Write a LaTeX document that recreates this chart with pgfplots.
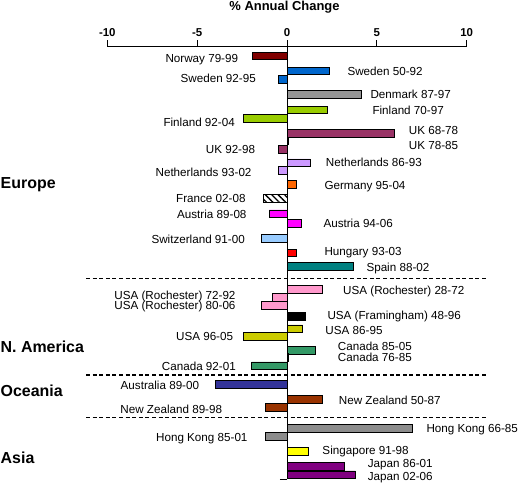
\documentclass[border=0pt]{standalone}
\usepackage{fontspec}
\setmainfont{Liberation Sans}
\usepackage{pgfplots}
\pgfplotsset{compat=1.18}
\usetikzlibrary{patterns.meta}
\definecolor{cNor}{HTML}{800000}
\definecolor{cSwe}{HTML}{0066CC}
\definecolor{cDen}{HTML}{969696}
\definecolor{cFin}{HTML}{99CC00}
\definecolor{cUK}{HTML}{993366}
\definecolor{cNed}{HTML}{CC99FF}
\definecolor{cGer}{HTML}{FF6600}
\definecolor{cAut}{HTML}{FF00FF}
\definecolor{cSwi}{HTML}{99CCFF}
\definecolor{cHun}{HTML}{FF0000}
\definecolor{cSpa}{HTML}{008080}
\definecolor{cRoc}{HTML}{FF99CC}
\definecolor{cFra}{HTML}{000000}
\definecolor{cUSA}{HTML}{CCCC00}
\definecolor{cCan}{HTML}{339966}
\definecolor{cAus}{HTML}{333399}
\definecolor{cNZ}{HTML}{993300}
\definecolor{cHK}{HTML}{8C8C8C}
\definecolor{cSin}{HTML}{FFFF00}
\definecolor{cJap}{HTML}{800080}
\begin{document}
\begin{tikzpicture}[
  lbl/.style={inner sep=0pt, font=\fontsize{11.7}{13}\selectfont},
  reg/.style={inner sep=0pt, anchor=base west, font=\bfseries\fontsize{16}{18}\selectfont}]
\begin{axis}[
  scale only axis, width=359.4bp, height=432bp,
  xmin=-10, xmax=10, ymin=-479, ymax=-47,
  axis x line=top, axis y line=none,
  axis line style={-, line width=1bp, black},
  xtick={-10,-5,0,5,10}, xticklabels={-10,-5,0,5,10},
  tick align=outside, major tick length=6.5bp,
  tick style={line width=1bp, black},
  xticklabel style={font=\bfseries\fontsize{11.5}{13}\selectfont},
  ytick=\empty,
  clip=false,
  every axis plot/.append style={line width=0.8bp},
  bars/.style={xbar, bar width=7.7, bar shift=0pt, draw=black},
]
% Europe
\addplot[bars, fill=cNor] coordinates {(-1.93,-55.8)};
\addplot[bars, fill=cSwe] coordinates {(2.37,-71) (-0.48,-79.2)};
\addplot[bars, fill=cDen] coordinates {(4.15,-94.5)};
\addplot[bars, fill=cFin] coordinates {(2.24,-110) (-2.42,-118.7)};
\addplot[bars, fill=cUK] coordinates {(6.0,-133.3) (0.1,-141) (-0.5,-149.3)};
\addplot[bars, fill=cNed] coordinates {(1.28,-162.8) (-0.5,-170.5)};
\addplot[bars, fill=cGer] coordinates {(0.5,-184.5)};
\addplot[bars, fill=white, postaction={pattern={Lines[angle=-45,distance=4.5bp,line width=1.3bp]}}] coordinates {(-1.3,-198.7)};
\addplot[bars, fill=cAut] coordinates {(-1.0,-213.8) (0.8,-223.2)};
\addplot[bars, fill=cSwi] coordinates {(-1.42,-238.3)};
\addplot[bars, fill=cHun] coordinates {(0.5,-252.8)};
\addplot[bars, fill=cSpa] coordinates {(3.71,-266.5)};
% N. America
\addplot[bars, fill=cRoc] coordinates {(1.97,-289.5) (-0.8,-297.7) (-1.41,-305.7)};
\addplot[bars, fill=cFra] coordinates {(1.0,-316.7)};
\addplot[bars, fill=cUSA] coordinates {(0.87,-328.8) (-2.42,-336.7)};
\addplot[bars, fill=cCan] coordinates {(1.6,-350.3) (0.1,-357.5) (-1.97,-365.8)};
% Oceania
\addplot[bars, fill=cAus] coordinates {(-3.99,-384.5)};
\addplot[bars, fill=cNZ] coordinates {(1.97,-399.5) (-1.22,-407.3)};
% Asia
\addplot[bars, fill=cHK] coordinates {(7.0,-428.3) (-1.22,-436.7)};
\addplot[bars, fill=cSin] coordinates {(1.2,-451.5)};
\addplot[bars, fill=cJap] coordinates {(3.2,-466.5) (3.8,-474.8)};
% zero line and separators
\addplot[black, line width=1bp] coordinates {(0,-47) (0,-479)};
\addplot[black, line width=1bp] coordinates {(-0.4,-479) (0,-479)};
\addplot[black, line width=1.2bp, dash pattern=on 4bp off 2.6bp] coordinates {(-11.185,-278.5) (11.13,-278.5)};
\addplot[black, line width=1.2bp, dash pattern=on 4bp off 2.6bp] coordinates {(-11.185,-375) (11.13,-375)};
\addplot[black, line width=1.2bp, dash pattern=on 4bp off 2.6bp] coordinates {(-11.185,-417.7) (11.13,-417.7)};
% title
\node[anchor=base, inner sep=0pt, font=\bfseries\fontsize{13}{15}\selectfont] at (axis cs:-0.139,-10.5) {\% Annual Change};
% left labels
\node[lbl, anchor=base east] at (axis cs:-2.710,-63) {Norway 79-99};
\node[lbl, anchor=base east] at (axis cs:-1.725,-83) {Sweden 92-95};
\node[lbl, anchor=base east] at (axis cs:-2.894,-126.7) {Finland 92-04};
\node[lbl, anchor=base east] at (axis cs:-1.764,-154) {UK 92-98};
\node[lbl, anchor=base east] at (axis cs:-1.964,-176.3) {Netherlands 93-02};
\node[lbl, anchor=base east] at (axis cs:-2.298,-203) {France 02-08};
\node[lbl, anchor=base east] at (axis cs:-2.243,-218) {Austria 89-08};
\node[lbl, anchor=base east] at (axis cs:-2.337,-243) {Switzerland 91-00};
\node[lbl, anchor=base east] at (axis cs:-2.855,-299.7) {USA (Rochester) 72-92};
\node[lbl, anchor=base east] at (axis cs:-2.855,-309.3) {USA (Rochester) 80-06};
\node[lbl, anchor=base east] at (axis cs:-2.988,-340.7) {USA 96-05};
\node[lbl, anchor=base east] at (axis cs:-2.838,-370) {Canada 92-01};
\node[lbl, anchor=base east] at (axis cs:-4.880,-389.7) {Australia 89-00};
\node[lbl, anchor=base east] at (axis cs:-3.600,-413.3) {New Zealand 89-98};
\node[lbl, anchor=base east] at (axis cs:-2.187,-441.7) {Hong Kong 85-01};
% right labels
\node[lbl, anchor=base west] at (axis cs:3.356,-76) {Sweden 50-92};
\node[lbl, anchor=base west] at (axis cs:4.636,-98.3) {Denmark 87-97};
\node[lbl, anchor=base west] at (axis cs:4.747,-115) {Finland 70-97};
\node[lbl, anchor=base west] at (axis cs:6.772,-135) {UK 68-78};
\node[lbl, anchor=base west] at (axis cs:6.772,-149.3) {UK 78-85};
\node[lbl, anchor=base west] at (axis cs:2.154,-166.3) {Netherlands 86-93};
\node[lbl, anchor=base west] at (axis cs:2.076,-189.3) {Germany 95-04};
\node[lbl, anchor=base west] at (axis cs:2.020,-227.3) {Austria 94-06};
\node[lbl, anchor=base west] at (axis cs:2.076,-255.7) {Hungary 93-03};
\node[lbl, anchor=base west] at (axis cs:4.413,-271) {Spain 88-02};
\node[lbl, anchor=base west] at (axis cs:3.116,-294) {USA (Rochester) 28-72};
\node[lbl, anchor=base west] at (axis cs:2.243,-319.3) {USA (Framingham) 48-96};
\node[lbl, anchor=base west] at (axis cs:2.131,-334.3) {USA 86-95};
\node[lbl, anchor=base west] at (axis cs:2.821,-350) {Canada 85-05};
\node[lbl, anchor=base west] at (axis cs:2.821,-361.3) {Canada 76-85};
\node[lbl, anchor=base west] at (axis cs:2.877,-404) {New Zealand 50-87};
\node[lbl, anchor=base west] at (axis cs:7.752,-432.7) {Hong Kong 66-85};
\node[lbl, anchor=base west] at (axis cs:1.964,-454.7) {Singapore 91-98};
\node[lbl, anchor=base west] at (axis cs:4.491,-467.7) {Japan 86-01};
\node[lbl, anchor=base west] at (axis cs:4.491,-480) {Japan 02-06};
% region labels
\node[reg] at (axis cs:-15.943,-189) {Europe};
\node[reg] at (axis cs:-15.943,-352) {N. America};
\node[reg] at (axis cs:-15.943,-396.5) {Oceania};
\node[reg] at (axis cs:-15.943,-463) {Asia};
\coordinate (bbA) at (axis cs:-15.971,0);
\coordinate (bbB) at (axis cs:12.910,-483);
\end{axis}
\pgfresetboundingbox
\useasboundingbox (bbA) rectangle (bbB);
\end{tikzpicture}
\end{document}
